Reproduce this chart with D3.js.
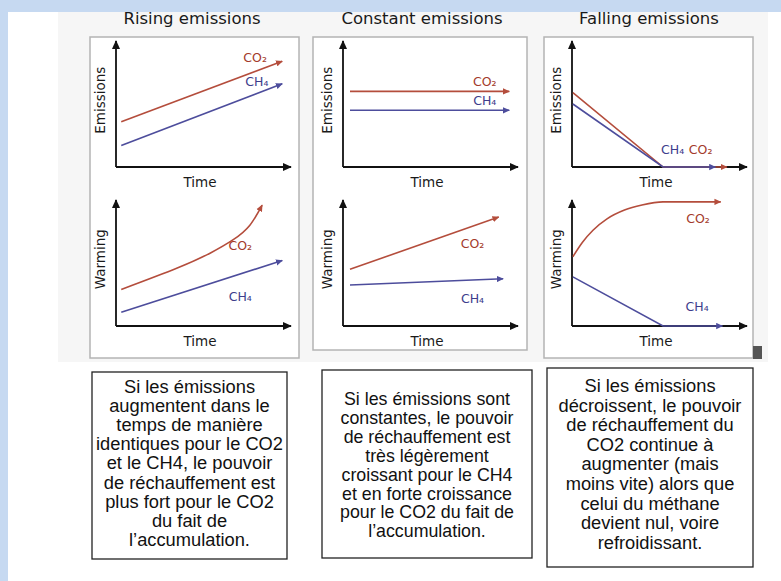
<!DOCTYPE html>
<html><head><meta charset="utf-8">
<script src="https://cdn.jsdelivr.net/npm/d3@7"></script>
<style>body{margin:0;background:#fff}svg{display:block}</style>
</head><body><svg id="c" width="781" height="581"></svg>
<script>
// ---------- DATA ----------
const titles = ["Rising emissions", "Constant emissions", "Falling emissions"];
const yAxisLabels = ["Emissions", "Warming"];
const xAxisLabel = "Time";
const seriesNames = ["CO₂", "CH₄"];

// [time, value] on 0–10 schematic scale
const risingEmissionsCO2 = [[0.3, 3.6], [9.5, 8.4]];
const risingEmissionsCH4 = [[0.3, 1.7], [9.5, 6.6]];
const risingWarmingCO2 = [[0.3, 2.9], [3.5, 4.6], [5.4, 5.8], [6.7, 6.85], [7.65, 8.0], [8.35, 9.6]];
const risingWarmingCH4 = [[0.3, 1.1], [9.5, 5.2]];

const constantEmissionsCO2 = [[0.4, 6.0], [9.5, 6.0]];
const constantEmissionsCH4 = [[0.4, 4.5], [9.5, 4.5]];
const constantWarmingCO2 = [[0.4, 4.5], [8.9, 8.65]];
const constantWarmingCH4 = [[0.4, 3.25], [9.15, 3.75]];

const fallingEmissionsCO2 = [[0.05, 5.9], [5.2, 0], [8.85, 0]];
const fallingEmissionsCH4 = [[0.05, 5.0], [5.2, 0], [8.2, 0]];
const fallingWarmingCO2 = [[0.05, 5.5], [0.6, 6.65], [1.2, 7.6], [2.0, 8.5], [3.0, 9.2], [4.0, 9.6], [5.2, 9.85], [8.5, 9.85]];
const fallingWarmingCH4 = [[0.05, 3.9], [5.2, 0], [8.6, 0]];

// label anchors [time, value] for CO2 and CH4 in each mini chart
const labelAnchors = [
  [[[7.95, 8.65], [8.05, 6.75]], [[7.1, 6.35], [7.1, 2.3]]],
  [[[8.1, 6.75], [8.1, 5.25]], [[7.4, 6.5], [7.4, 2.2]]],
  [[[7.35, 1.35], [5.75, 1.35]], [[7.2, 8.5], [7.15, 1.5]]]
];

const captions = [
  ["Si les émissions", "augmentent dans le", "temps de manière", "identiques pour le CO2",
   "et le CH4, le pouvoir", "de réchauffement est", "plus fort pour le CO2", "du fait de", "l’accumulation."],
  ["Si les émissions sont", "constantes, le pouvoir", "de réchauffement est", "très légèrement",
   "croissant pour le CH4", "et en forte croissance", "pour le CO2 du fait de", "l’accumulation."],
  ["Si les émissions", "décroissent, le pouvoir", "de réchauffement du", "CO2 continue à",
   "augmenter (mais", "moins vite) alors que", "celui du méthane", "devient nul, voire", "refroidissant."]
];

const chartSeries = [
  [[risingEmissionsCO2, risingEmissionsCH4], [risingWarmingCO2, risingWarmingCH4]],
  [[constantEmissionsCO2, constantEmissionsCH4], [constantWarmingCO2, constantWarmingCH4]],
  [[fallingEmissionsCO2, fallingEmissionsCH4], [fallingWarmingCO2, fallingWarmingCH4]]
];

// ---------- LAYOUT ----------
const panels = [
  {left: 90, top: 37, right: 299, bottom: 358, ox: 116, titleX: 192},
  {left: 313, top: 37, right: 527, bottom: 350, ox: 343, titleX: 422},
  {left: 544, top: 37, right: 753, bottom: 358, ox: 572, titleX: 649}
];
const rows = [{oy: 167}, {oy: 326}];
const xLen = 175, yLen = 126;
const boxes = [
  {x: 92, y: 372, w: 195, h: 187, lh: 19.2, cy: 463, fs: 18.3},
  {x: 322, y: 370, w: 210, h: 188, lh: 18.9, cy: 465, fs: 17.8},
  {x: 547, y: 368, w: 206, h: 199, lh: 19.6, cy: 464, fs: 18.3}
];
const colors = {line: ["#b44d3c", "#4d4d9c"], text: ["#a33a2b", "#3d3d8c"]};

const svg = d3.select("#c");

// background
svg.append("rect").attr("width", 781).attr("height", 581).attr("fill", "#ffffff");
svg.append("rect").attr("x", 58).attr("y", 12).attr("width", 710).attr("height", 350).attr("fill", "#f6f6f6");
svg.append("rect").attr("x", 0).attr("y", 0).attr("width", 781).attr("height", 12).attr("fill", "#c6d9f1");
svg.append("rect").attr("x", 0).attr("y", 0).attr("width", 8).attr("height", 581).attr("fill", "#c6d9f1");

// markers
const defs = svg.append("defs");
function marker(id, color, size) {
  defs.append("marker").attr("id", id).attr("viewBox", "0 -5 10 10")
    .attr("refX", 9).attr("refY", 0).attr("markerUnits", "userSpaceOnUse")
    .attr("markerWidth", size).attr("markerHeight", size).attr("orient", "auto")
    .append("path").attr("d", "M0,-4.5L10,0L0,4.5Z").attr("fill", color);
}
marker("arrAxis", "#111", 9);
marker("arr0", colors.line[0], 7);
marker("arr1", colors.line[1], 7);

const font = "'DejaVu Sans', Verdana, sans-serif";

panels.forEach((p, pi) => {
  svg.append("rect").attr("x", p.left).attr("y", p.top)
    .attr("width", p.right - p.left).attr("height", p.bottom - p.top)
    .attr("fill", "#ffffff").attr("stroke", "#b4b4b4").attr("stroke-width", 1.5);

  svg.append("text").attr("x", p.titleX).attr("y", 24).attr("text-anchor", "middle")
    .attr("font-family", font).attr("font-size", 16.5).attr("fill", "#1a1a1a")
    .text(titles[pi]);

  rows.forEach((r, ri) => {
    const x = d3.scaleLinear().domain([0, 10]).range([p.ox, p.ox + xLen]);
    const y = d3.scaleLinear().domain([0, 10]).range([r.oy, r.oy - yLen]);
    const g = svg.append("g");

    // axes
    g.append("line").attr("x1", x(0)).attr("y1", y(0)).attr("x2", x(10)).attr("y2", y(0))
      .attr("stroke", "#111").attr("stroke-width", 1.8).attr("marker-end", "url(#arrAxis)");
    g.append("line").attr("x1", x(0)).attr("y1", y(0)).attr("x2", x(0)).attr("y2", y(10))
      .attr("stroke", "#111").attr("stroke-width", 1.8).attr("marker-end", "url(#arrAxis)");

    // series
    chartSeries[pi][ri].forEach((s, si) => {
      const curve = s.length > 3 ? (pi === 0 ? d3.curveNatural : d3.curveMonotoneX) : d3.curveLinear;
      const lg = d3.line().x(d => x(d[0])).y(d => y(d[1])).curve(curve);
      g.append("path").attr("d", lg(s)).attr("fill", "none")
        .attr("stroke", colors.line[si]).attr("stroke-width", 1.6)
        .attr("marker-end", `url(#arr${si})`);
    });

    g.append("text").attr("x", x(4.8)).attr("y", y(0) + 20).attr("text-anchor", "middle")
      .attr("font-family", font).attr("font-size", 13.5).attr("fill", "#1a1a1a").text(xAxisLabel);
    g.append("text").attr("transform", `translate(${x(0) - 11},${y(5.3)}) rotate(-90)`)
      .attr("text-anchor", "middle").attr("font-family", font).attr("font-size", 13.5)
      .attr("fill", "#1a1a1a").text(yAxisLabels[ri]);

    // series labels
    labelAnchors[pi][ri].forEach((a, si) => {
      g.append("text").attr("x", x(a[0])).attr("y", y(a[1])).attr("dy", "0.35em")
        .attr("text-anchor", "middle").attr("font-family", font).attr("font-size", 12.5)
        .attr("fill", colors.text[si]).text(seriesNames[si]);
    });
  });
});

// small dark square
svg.append("rect").attr("x", 753).attr("y", 346).attr("width", 9).attr("height", 13).attr("fill", "#555");

// captions
boxes.forEach((b, bi) => {
  svg.append("rect").attr("x", b.x).attr("y", b.y).attr("width", b.w).attr("height", b.h)
    .attr("fill", "#fff").attr("stroke", "#222").attr("stroke-width", 1.3);
  const lines = captions[bi];
  const t = svg.append("text").attr("text-anchor", "middle")
    .attr("font-family", "'Liberation Sans', Arial, sans-serif").attr("font-size", b.fs).attr("fill", "#111");
  lines.forEach((l, li) => {
    t.append("tspan").attr("x", b.x + b.w / 2)
      .attr("y", b.cy + (li - (lines.length - 1) / 2) * b.lh).attr("dy", "0.35em").text(l);
  });
});
</script></body></html>
